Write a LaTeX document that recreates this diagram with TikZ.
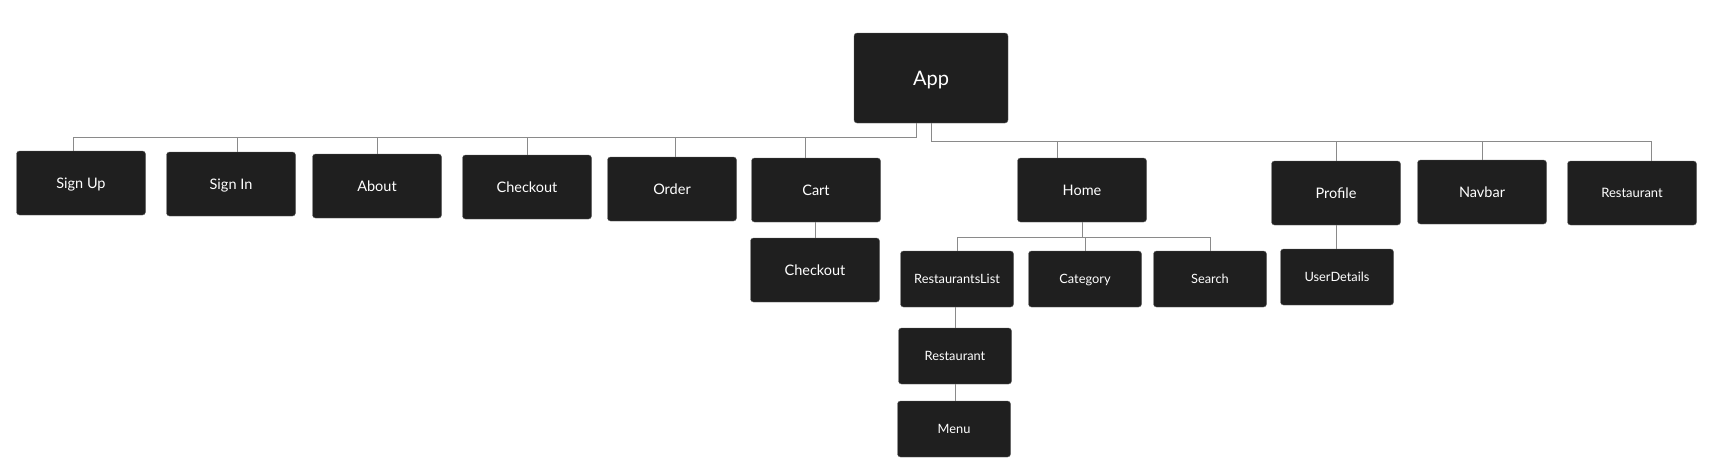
\documentclass[tikz,border=0pt]{standalone}
\usepackage{fontspec}
\setmainfont{Lato}
\usetikzlibrary{positioning}

\definecolor{boxgray}{HTML}{1F1F1F}
\definecolor{linkgray}{HTML}{8A8A8A}

\begin{document}
\begin{tikzpicture}[x=1pt,y=-1pt,
  comp/.style={fill=boxgray, draw=boxgray!70!white, rounded corners=3pt, text=white, text depth=0pt,
    minimum width=129pt, minimum height=64pt, inner sep=0pt, font=\fontsize{14.5}{16}\selectfont},
  subcomp/.style={comp, minimum width=113pt, minimum height=56pt, font=\fontsize{12.8}{14}\selectfont},
  link/.style={draw=linkgray, line width=0.8pt}]
\useasboundingbox (0,0) rectangle (1726,475);

\node[comp, minimum width=154pt, minimum height=90pt, font=\fontsize{20}{24}\selectfont] (app) at (931,78) {App};

% first row
\node[comp] (signup) at (81,183) {Sign Up};
\node[comp] (signin) at (231,184) {Sign In};
\node[comp] (about) at (377,186) {About};
\node[comp] (checkout) at (527,187) {Checkout};
\node[comp] (order) at (672,189) {Order};
\node[comp] (cart) at (816,190) {Cart};
\node[comp] (home) at (1082,190) {Home};
\node[comp] (profile) at (1336,193) {Profile};
\node[comp] (navbar) at (1482,192) {Navbar};
\node[comp, font=\fontsize{13}{15}\selectfont] (restaurant) at (1632,193) {Restaurant};

% second row
\node[comp] (cartcheckout) at (815,270) {Checkout};
\node[subcomp] (restlist) at (957,279) {RestaurantsList};
\node[subcomp] (category) at (1085,279) {Category};
\node[subcomp] (search) at (1210,279) {Search};
\node[subcomp] (userdetails) at (1337,277) {UserDetails};

% deeper
\node[subcomp] (restitem) at (955,356) {Restaurant};
\node[subcomp] (menu) at (954,429) {Menu};

\coordinate (lbus) at (916,137.5);
\coordinate (rbus) at (931,141);
\coordinate (hbus) at (1082,237);

\draw[link] ([xshift=-15pt]app.south) -- (lbus);
\draw[link] (app.south) -- (rbus);
\draw[link] (lbus) -| ([xshift=-8pt]signup.north);
\draw[link] (lbus) -| ([xshift=6pt]signin.north);
\draw[link] (lbus) -| (about.north);
\draw[link] (lbus) -| (checkout.north);
\draw[link] (lbus) -| ([xshift=3pt]order.north);
\draw[link] (lbus) -| ([xshift=-11pt]cart.north);
\draw[link] (rbus) -| ([xshift=-25pt]home.north);
\draw[link] (rbus) -| (profile.north);
\draw[link] (rbus) -| (navbar.north);
\draw[link] (rbus) -| ([xshift=19pt]restaurant.north);

\draw[link] (home.south) -- (hbus);
\draw[link] (hbus) -| (restlist.north);
\draw[link] (hbus) -| (category.north);
\draw[link] (hbus) -| (search.north);

\draw[link] (cartcheckout.north) -- (cartcheckout.north |- cart.south);
\draw[link] (profile.south) -- (userdetails.north -| profile.south);
\draw[link] (restitem.north) -- (restitem.north |- restlist.south);
\draw[link] (restitem.south) -- (menu.north -| restitem.south);
\end{tikzpicture}
\end{document}
